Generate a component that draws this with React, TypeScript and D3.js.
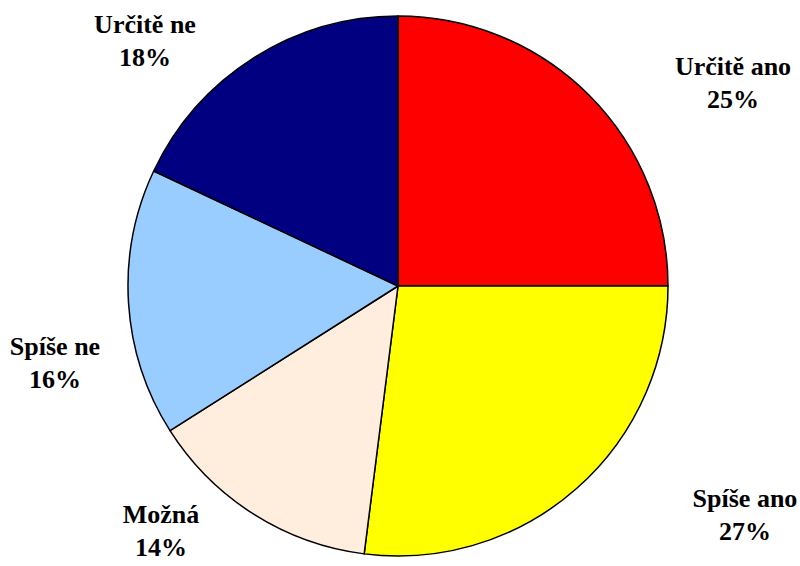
import React, { useEffect, useRef } from 'react';
import * as d3 from 'd3';

// chart data
const categories = ['Určitě ano', 'Spíše ano', 'Možná', 'Spíše ne', 'Určitě ne'];
const values = [25, 27, 14, 16, 18];
const colors = ['#ff0000', '#ffff00', '#ffeedd', '#99ccff', '#000080'];
// label anchor points (centre x, baseline y of first line)
const labelPos: [number, number][] = [
  [733, 75],
  [745, 507],
  [161, 523],
  [55, 355],
  [145, 33],
];

function App() {
  const svgRef = useRef<SVGSVGElement | null>(null);

  useEffect(() => {
    if (!svgRef.current) return;
    const width = 800;
    const height = 566;
    const cx = 398;
    const cy = 286;
    const radius = 270;

    const svg = d3.select(svgRef.current);
    svg.selectAll('*').remove();
    svg.attr('width', width).attr('height', height).attr('viewBox', `0 0 ${width} ${height}`);

    svg.append('rect').attr('width', width).attr('height', height).attr('fill', '#fff');

    const pie = d3.pie<number>().sort(null).value(d => d);
    const arc = d3.arc<d3.PieArcDatum<number>>().innerRadius(0).outerRadius(radius);

    const g = svg.append('g').attr('transform', `translate(${cx},${cy})`);
    g.selectAll('path')
      .data(pie(values))
      .enter()
      .append('path')
      .attr('d', arc)
      .attr('fill', (d, i) => colors[i])
      .attr('stroke', '#000')
      .attr('stroke-width', 1.5)
      .attr('stroke-linejoin', 'round');

    // labels
    const labels = svg.append('g')
      .attr('font-family', '"Liberation Serif", "Times New Roman", serif')
      .attr('font-weight', 'bold')
      .attr('font-size', '26px')
      .attr('fill', '#000')
      .attr('text-anchor', 'middle');

    categories.forEach((name, i) => {
      const [x, y] = labelPos[i];
      labels.append('text').attr('x', x).attr('y', y).text(name);
      labels.append('text')
        .attr('x', x)
        .attr('y', y + 33)
        .text(`${values[i]}%`);
    });
  }, []);

  return (
    <div style={{ position: 'absolute', left: 0, top: 0 }}>
      <svg ref={svgRef} style={{ display: 'block' }}></svg>
    </div>
  );
}

export default App;
